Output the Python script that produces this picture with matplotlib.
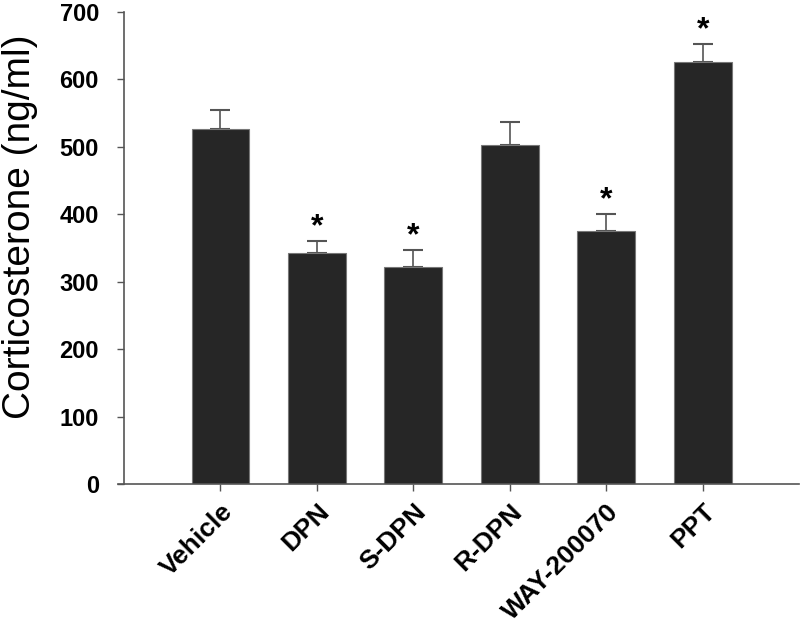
import numpy as np
import matplotlib.pyplot as plt
from matplotlib.transforms import ScaledTranslation

plt.rcParams['font.family'] = ['Liberation Sans', 'DejaVu Sans']

# Data
groups = ["Vehicle", "DPN", "S-DPN", "R-DPN", "WAY-200070", "PPT"]
means = [526, 343, 322, 503, 375, 625]
sem = [29, 18, 25, 33, 25, 28]
significant = [False, True, True, False, True, True]

fig = plt.figure(figsize=(8, 6.25), dpi=100)
ax = fig.add_axes([0.155, 0.2256, 0.844, 0.7554])

x = np.arange(len(groups))
ax.bar(x, means, width=0.6, color='#262626', edgecolor='#777777', linewidth=0.8, zorder=2)
ax.errorbar(x, means, yerr=[np.zeros(len(sem)), sem], fmt='none', ecolor='#555555',
            elinewidth=1.2, capsize=7, capthick=1.5, zorder=1)

for xi, m, s, sig in zip(x, means, sem, significant):
    if sig:
        ax.annotate('*', (xi, m + s), xytext=(0, -1), textcoords='offset points',
                    ha='center', va='bottom', fontsize=23, fontweight='bold')

ax.set_xlim(-1, 6)
ax.set_ylim(0, 700)
ax.set_yticks(np.arange(0, 701, 100))
ax.set_xticks(x)
ax.set_xticklabels(groups, rotation=45, ha='right', rotation_mode='anchor',
                   fontsize=19, fontweight='bold')
shift = ScaledTranslation(10 / 72, 0, fig.dpi_scale_trans)
for lab in ax.get_xticklabels():
    lab.set_transform(lab.get_transform() + shift)
for lab in ax.get_yticklabels():
    lab.set_fontsize(17)
    lab.set_fontweight('bold')
ax.set_ylabel('Corticosterone (ng/ml)', fontsize=28)
ax.yaxis.set_label_coords(-0.127, 0.545)

for side in ['top', 'right']:
    ax.spines[side].set_visible(False)
for side in ['left', 'bottom']:
    ax.spines[side].set_color('#555555')
    ax.spines[side].set_linewidth(1.2)
ax.spines['bottom'].set_bounds(-1.065, 6)
ax.tick_params(direction='out', length=5, width=1, color='#555555')
ax.tick_params(axis='y', pad=13)
ax.tick_params(axis='x', pad=6)

fig.savefig('out.png', dpi=100)
